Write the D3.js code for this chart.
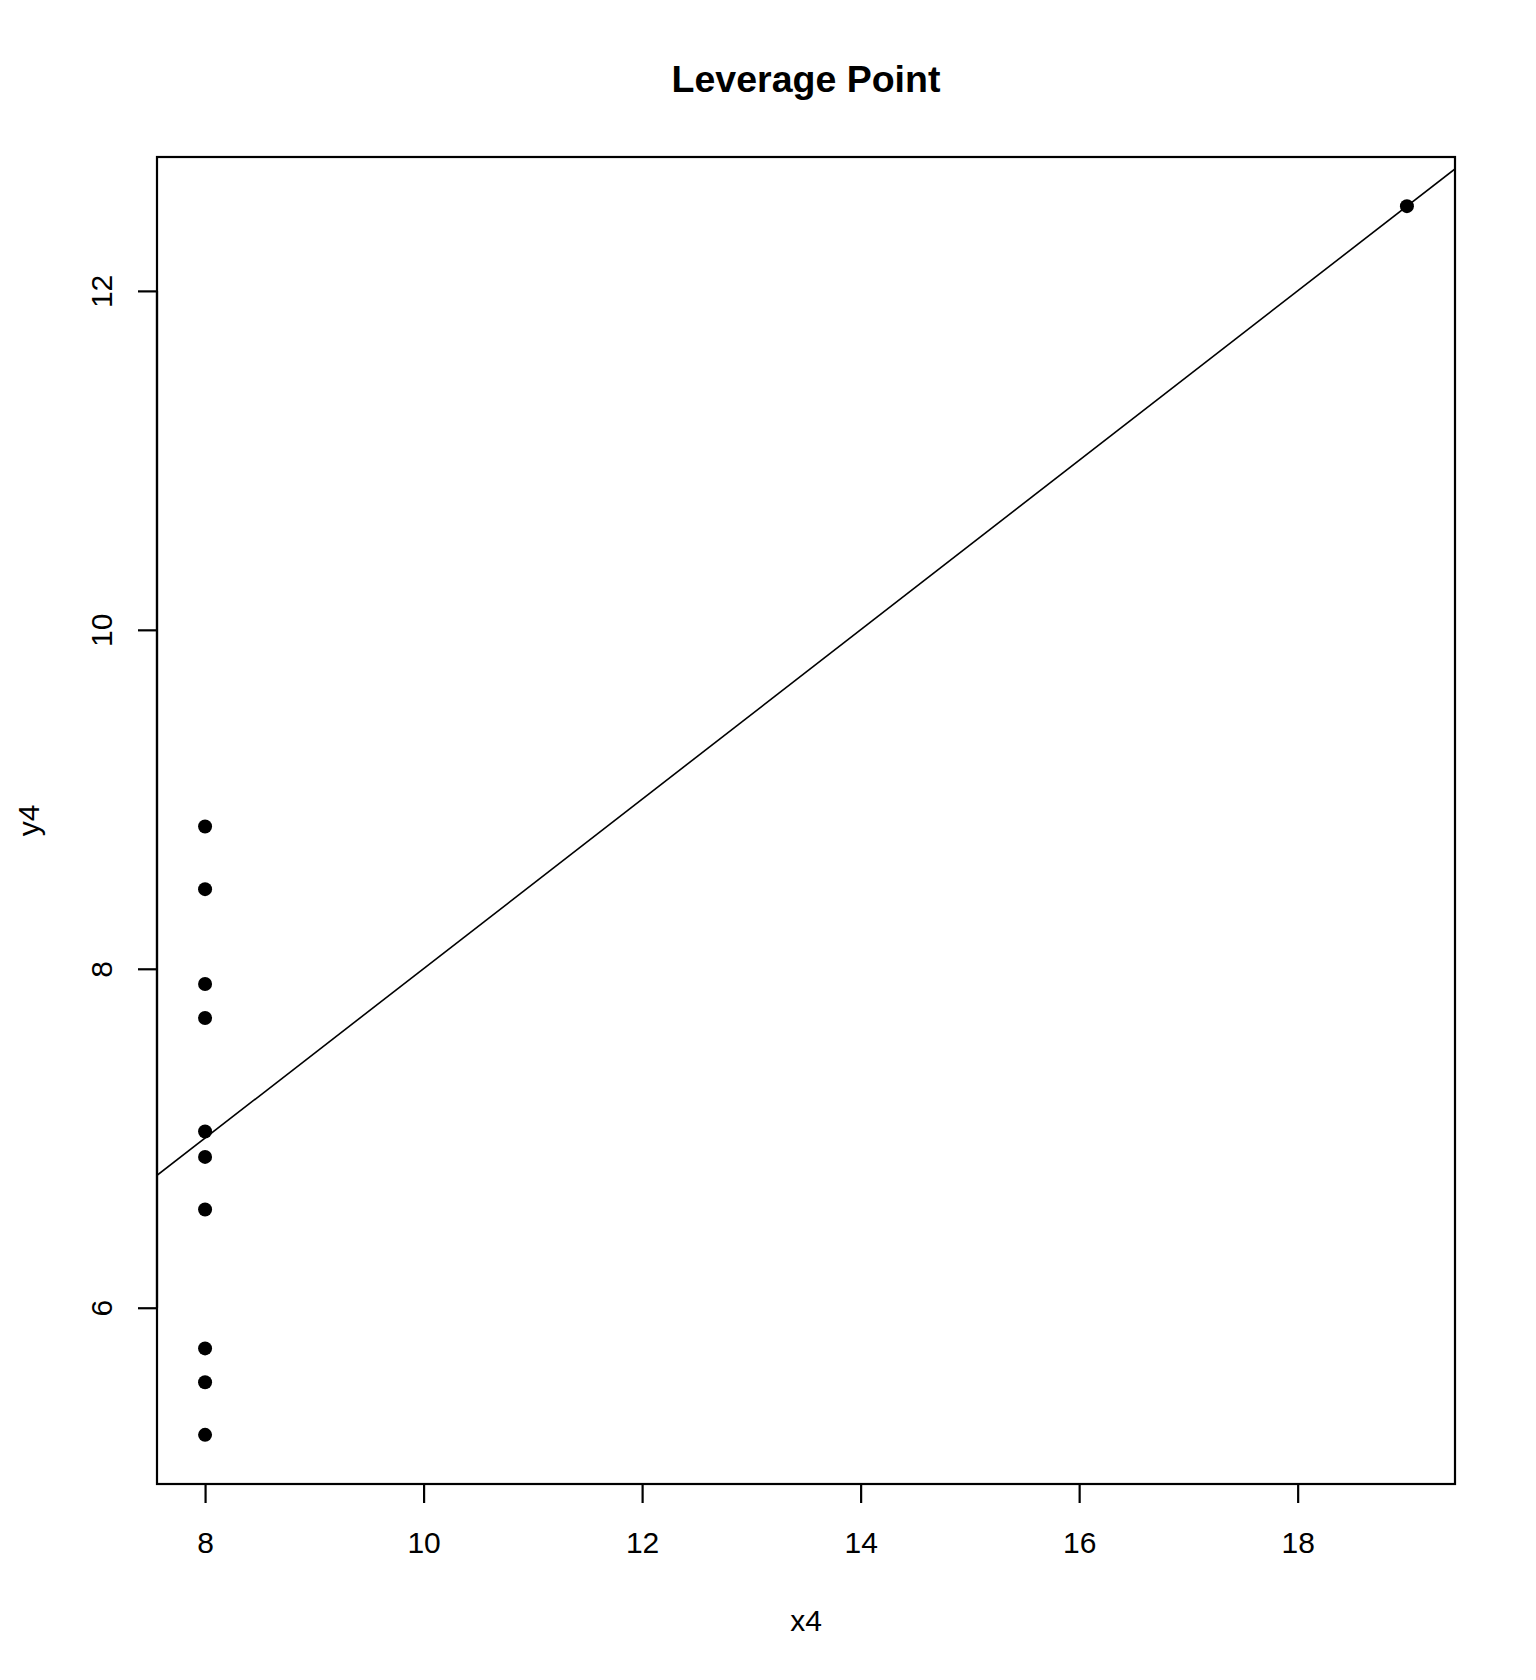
<!DOCTYPE html>
<html>
<head>
<meta charset="utf-8">
<script src="https://cdn.jsdelivr.net/npm/d3@7"></script>
<style>
  body { margin: 0; background: white; }
  text { font-family: "Liberation Sans", Arial, sans-serif; fill: black; }
</style>
</head>
<body>
<script>
// Anscombe quartet, set 4
const x4 = [8, 8, 8, 8, 8, 8, 8, 19, 8, 8, 8];
const y4 = [6.58, 5.76, 7.71, 8.84, 8.47, 7.04, 5.25, 12.50, 5.56, 7.91, 6.89];
const xTicks = [8, 10, 12, 14, 16, 18];
const yTicks = [6, 8, 10, 12];

const width = 1536;
const height = 1680;
const box = { left: 157, right: 1455, top: 157, bottom: 1484 };

const svg = d3.select('body').append('svg')
  .attr('width', width)
  .attr('height', height);

// R style axis limits: data range padded by 4%
const xr = d3.extent(x4), yr = d3.extent(y4);
const xPad = (xr[1] - xr[0]) * 0.04, yPad = (yr[1] - yr[0]) * 0.04;

const xScale = d3.scaleLinear()
  .domain([xr[0] - xPad, xr[1] + xPad])
  .range([box.left, box.right]);
const yScale = d3.scaleLinear()
  .domain([yr[0] - yPad, yr[1] + yPad])
  .range([box.bottom, box.top]);

// least squares fit, like abline(lm(y4 ~ x4))
const mx = d3.mean(x4), my = d3.mean(y4);
const slope = d3.sum(x4, (d, i) => (d - mx) * (y4[i] - my)) / d3.sum(x4, d => (d - mx) ** 2);
const intercept = my - slope * mx;

svg.append('clipPath').attr('id', 'plot-clip')
  .append('rect')
  .attr('x', box.left).attr('y', box.top)
  .attr('width', box.right - box.left).attr('height', box.bottom - box.top);

const xd = xScale.domain();
svg.append('line')
  .attr('clip-path', 'url(#plot-clip)')
  .attr('x1', xScale(xd[0])).attr('y1', yScale(intercept + slope * xd[0]))
  .attr('x2', xScale(xd[1])).attr('y2', yScale(intercept + slope * xd[1]))
  .attr('stroke', 'black')
  .attr('stroke-width', 1.6);

svg.selectAll('circle.pt')
  .data(x4.map((d, i) => [d, y4[i]]))
  .enter()
  .append('circle')
  .attr('class', 'pt')
  .attr('cx', d => xScale(d[0]))
  .attr('cy', d => yScale(d[1]))
  .attr('r', 7)
  .attr('fill', 'black');

svg.append('rect')
  .attr('x', box.left).attr('y', box.top)
  .attr('width', box.right - box.left).attr('height', box.bottom - box.top)
  .attr('fill', 'none')
  .attr('stroke', 'black')
  .attr('stroke-width', 2.2);

const xAxis = d3.axisBottom(xScale)
  .tickValues(xTicks)
  .tickSizeInner(19)
  .tickSizeOuter(0)
  .tickPadding(36);
const gx = svg.append('g')
  .attr('transform', `translate(0,${box.bottom})`)
  .call(xAxis);
gx.select('.domain')
  .attr('d', `M${xScale(xTicks[0])},0H${xScale(xTicks[xTicks.length - 1])}`)
  .attr('stroke-width', 2.2);
gx.selectAll('.tick line').attr('stroke-width', 2.2);
gx.selectAll('.tick text')
  .style('font-size', '30px')
  .attr('dy', null)
  .attr('y', 69);

const yAxis = d3.axisLeft(yScale)
  .tickValues(yTicks)
  .tickSizeInner(19)
  .tickSizeOuter(0);
const gy = svg.append('g')
  .attr('transform', `translate(${box.left},0)`)
  .call(yAxis);
gy.select('.domain')
  .attr('d', `M0,${yScale(yTicks[0])}V${yScale(yTicks[yTicks.length - 1])}`)
  .attr('stroke-width', 2.2);
gy.selectAll('.tick line').attr('stroke-width', 2.2);
gy.selectAll('.tick text')
  .style('font-size', '30px')
  .attr('x', null).attr('dy', null)
  .attr('text-anchor', 'middle')
  .attr('transform', 'translate(-45,0) rotate(-90)');

svg.append('text')
  .text('Leverage Point')
  .attr('x', (box.left + box.right) / 2)
  .attr('y', 92)
  .attr('text-anchor', 'middle')
  .style('font-size', '37.5px')
  .style('font-weight', 'bold');

svg.append('text')
  .text('x4')
  .attr('x', (box.left + box.right) / 2)
  .attr('y', 1631)
  .attr('text-anchor', 'middle')
  .style('font-size', '30px');

svg.append('text')
  .text('y4')
  .attr('transform', `translate(39,${(box.top + box.bottom) / 2}) rotate(-90)`)
  .attr('text-anchor', 'middle')
  .style('font-size', '30px');
</script>
</body>
</html>
